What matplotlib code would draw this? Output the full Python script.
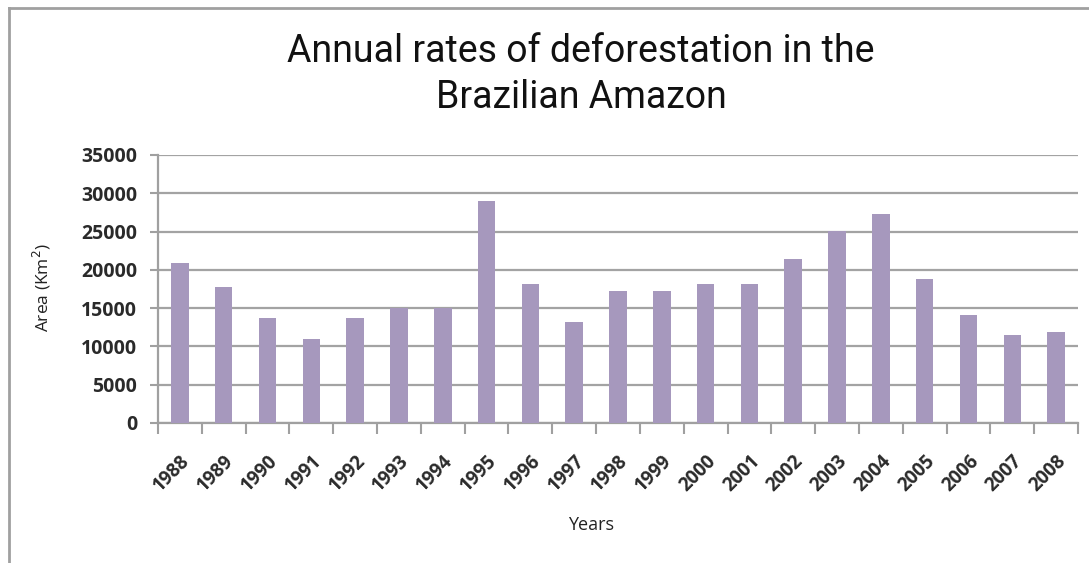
import matplotlib
matplotlib.use("Agg")
import matplotlib.pyplot as plt
from matplotlib.lines import Line2D
import numpy as np

years = ["1988", "1989", "1990", "1991", "1992", "1993", "1994", "1995", "1996", "1997",
         "1998", "1999", "2000", "2001", "2002", "2003", "2004", "2005", "2006", "2007", "2008"]
area_km2 = [20900, 17700, 13700, 11000, 13700, 15000, 15000, 29000, 18100, 13200,
            17300, 17200, 18200, 18100, 21400, 25100, 27300, 18800, 14100, 11500, 11900]
y_ticks = [0, 5000, 10000, 15000, 20000, 25000, 30000, 35000]

W, H = 1089, 563
fig = plt.figure(figsize=(W / 100, H / 100), dpi=100)
fig.patch.set_facecolor("white")

# frame lines along the top and left of the canvas
fig.add_artist(Line2D([9 / W, 1], [1 - 8 / H, 1 - 8 / H], transform=fig.transFigure,
                      color="#a0a0a0", lw=2))
fig.add_artist(Line2D([9 / W, 9 / W], [0, 1 - 8 / H], transform=fig.transFigure,
                      color="#a0a0a0", lw=2))

ax = fig.add_axes([158 / W, 1 - 423 / H, (1078 - 158) / W, (423 - 155) / H])
x = np.arange(len(years))
ax.bar(x, area_km2, width=0.4, color="#a698bd", zorder=3)

tick_font = ["Open Sans", "DejaVu Sans"]
ax.set_xlim(-0.5, len(years) - 0.5)
ax.set_ylim(0, 35000)
ax.set_yticks(y_ticks)
ax.set_yticklabels([str(v) for v in y_ticks], fontsize=14, fontweight="bold",
                   color="#2a2a2a", family=tick_font)
ax.yaxis.grid(True, color="#a3a3a3", lw=1.6, zorder=0)

ax.set_xticks(x)
ax.set_xticklabels(years, rotation=45, ha="right", va="top", rotation_mode="anchor",
                   fontsize=13.5, fontweight="bold", color="#2a2a2a", family=tick_font)
ax.tick_params(axis="x", which="major", length=0, pad=20)
ax.set_xticks(np.arange(-0.5, len(years)), minor=True)
ax.tick_params(axis="x", which="minor", length=8, width=1.5, color="#a0a0a0")
ax.tick_params(axis="y", length=6, width=1.5, color="#a0a0a0", pad=9)

for s in ["top", "right"]:
    ax.spines[s].set_visible(False)
for s in ["left", "bottom"]:
    ax.spines[s].set_color("#a0a0a0")
    ax.spines[s].set_linewidth(1.6)

title_font = ["Roboto", "DejaVu Sans"]
fig.text(581 / W, 1 - 51 / H, "Annual rates of deforestation in the", ha="center",
         va="center", fontsize=27, family=title_font, color="#111111")
fig.text(581 / W, 1 - 97 / H, "Brazilian Amazon", ha="center", va="center",
         fontsize=27, family=title_font, color="#111111")

fig.text(42 / W, 1 - 288 / H, "Area (Km$^2$)", rotation=90, ha="center", va="center",
         fontsize=12.5, family=["Open Sans", "DejaVu Sans"], color="#222222")
fig.text(591 / W, 1 - 525 / H, "Years", ha="center", va="center",
         fontsize=13, family=["Open Sans", "DejaVu Sans"], color="#222222")

fig.savefig("out.png", dpi=100, facecolor="white")
